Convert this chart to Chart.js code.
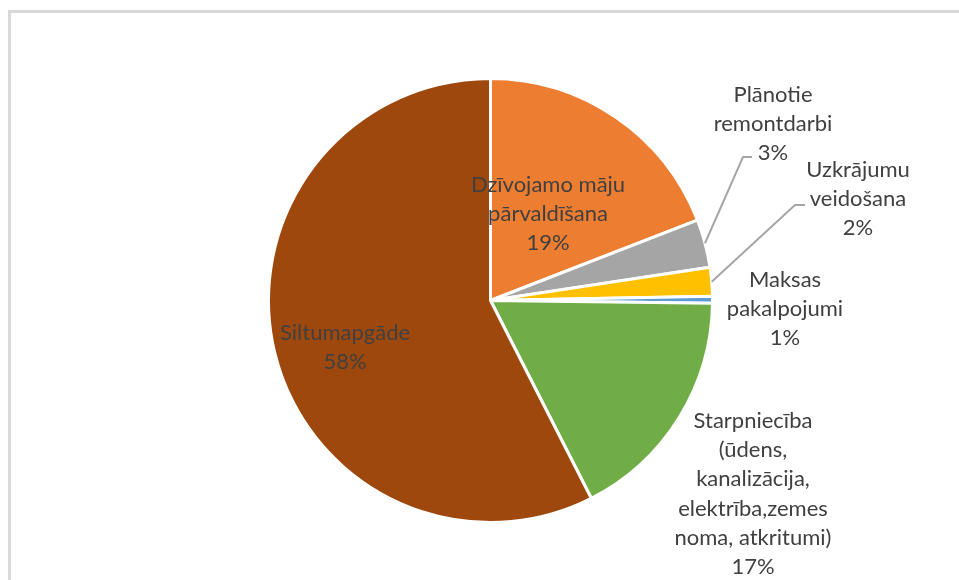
<!DOCTYPE html>
<html>
<head>
<meta charset="utf-8">
<script src="https://cdn.jsdelivr.net/npm/chart.js@4"></script>
<style>
  html, body { margin: 0; padding: 0; background: #fff; }
  #wrap { position: relative; width: 959px; height: 580px; overflow: hidden; }
  #frame { position: absolute; left: 8px; top: 10px; width: 1000px; height: 1000px;
           border: 3px solid #d9d9d9; box-sizing: border-box; }
  #c { position: absolute; left: 0; top: 0; }
</style>
</head>
<body>
<div id="wrap">
  <div id="frame"></div>
  <canvas id="c" width="959" height="580"></canvas>
</div>
<script>
const categories = [
  "Dzīvojamo māju pārvaldīšana",
  "Plānotie remontdarbi",
  "Uzkrājumu veidošana",
  "Maksas pakalpojumi",
  "Starpniecība (ūdens, kanalizācija, elektrība,zemes noma, atkritumi)",
  "Siltumapgāde"
];
const values = [19.1, 3.5, 2.1, 0.5, 17.3, 57.5];
const pctLabels = ["19%", "3%", "2%", "1%", "17%", "58%"];
const colors = ["#ED7D31", "#A5A5A5", "#FFC000", "#5B9BD5", "#70AD47", "#9E480E"];

// label text lines (wrapped as in the picture)
const labelLines = [
  ["Dzīvojamo māju", "pārvaldīšana"],
  ["Plānotie", "remontdarbi"],
  ["Uzkrājumu", "veidošana"],
  ["Maksas", "pakalpojumi"],
  ["Starpniecība", "(ūdens,", "kanalizācija,", "elektrība,zemes", "noma, atkritumi)"],
  ["Siltumapgāde"]
];
// label block centre (x, y of first line), and leader elbow if any
const labelLayout = [
  { x: 548, y: 185 },
  { x: 773, y: 95, elbow: [743, 157], end: 752 },
  { x: 858, y: 170, elbow: [795, 205], end: 805 },
  { x: 785, y: 280 },
  { x: 753, y: 421 },
  { x: 345, y: 333 }
];

const FONT = '22px Lato, "Noto Sans", sans-serif';
const LINE_H = 29.2;

const labelPlugin = {
  id: "labels",
  afterDatasetsDraw(chart) {
    const ctx = chart.ctx;
    const arcs = chart.getDatasetMeta(0).data;
    ctx.save();
    // leader lines
    ctx.strokeStyle = "#A6A6A6";
    ctx.lineWidth = 2;
    arcs.forEach((arc, i) => {
      const lay = labelLayout[i];
      if (!lay.elbow) return;
      const mid = (arc.startAngle + arc.endAngle) / 2;
      const sx = arc.x + Math.cos(mid) * arc.outerRadius;
      const sy = arc.y + Math.sin(mid) * arc.outerRadius;
      ctx.beginPath();
      ctx.moveTo(sx, sy);
      ctx.lineTo(lay.elbow[0], lay.elbow[1]);
      ctx.lineTo(lay.end, lay.elbow[1]);
      ctx.stroke();
    });
    // texts
    ctx.font = FONT;
    ctx.fillStyle = "#404040";
    ctx.textAlign = "center";
    ctx.textBaseline = "middle";
    labelLines.forEach((lines, i) => {
      const lay = labelLayout[i];
      const all = lines.concat([pctLabels[i]]);
      all.forEach((t, k) => ctx.fillText(t, lay.x, lay.y + k * LINE_H));
    });
    ctx.restore();
  }
};

new Chart(document.getElementById("c"), {
  type: "pie",
  data: {
    labels: categories,
    datasets: [{
      data: values,
      backgroundColor: colors,
      borderColor: "#ffffff",
      borderWidth: 3
    }]
  },
  options: {
    responsive: false,
    animation: false,
    layout: { padding: { left: 267, right: 245, top: 77, bottom: 56 } },
    plugins: {
      legend: { display: false },
      tooltip: { enabled: false }
    }
  },
  plugins: [labelPlugin]
});
</script>
</body>
</html>
